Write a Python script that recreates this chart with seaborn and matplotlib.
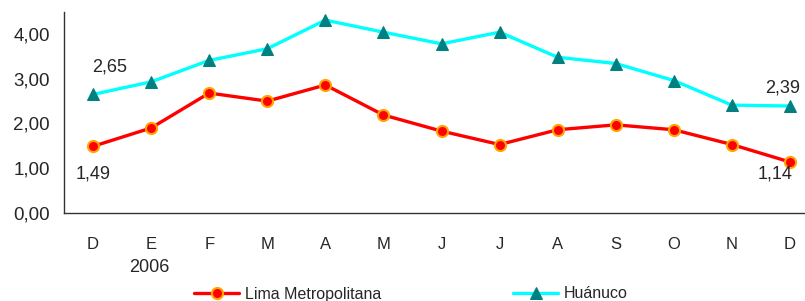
import matplotlib
matplotlib.use("Agg")
import matplotlib.pyplot as plt
import seaborn as sns
import pandas as pd
import numpy as np

months = ["D", "E", "F", "M", "A", "M", "J", "J", "A", "S", "O", "N", "D"]
lima = [1.49, 1.90, 2.68, 2.50, 2.86, 2.19, 1.83, 1.53, 1.86, 1.97, 1.86, 1.53, 1.14]
huanuco = [2.65, 2.93, 3.41, 3.67, 4.31, 4.04, 3.78, 4.04, 3.48, 3.34, 2.96, 2.41, 2.39]
series_names = ["Lima Metropolitana", "Huánuco"]

sns.set_style("white")
plt.rcParams['font.family'] = ['Liberation Sans', 'DejaVu Sans']

fig = plt.figure(figsize=(8.05, 3.01), dpi=100)
ax = fig.add_axes([64/805, 1-213/301, (819-64)/805, (213-11.6)/301])

idx = np.arange(len(months))
df = pd.DataFrame({"x": np.concatenate([idx, idx]),
                   "y": lima + huanuco,
                   "serie": [series_names[0]]*len(idx) + [series_names[1]]*len(idx)})

sns.lineplot(data=df[df.serie == series_names[0]], x="x", y="y", ax=ax,
             color="#FF0000", lw=2.4, marker="o", markersize=8,
             markerfacecolor="#FF0000", markeredgecolor="#FFA500", markeredgewidth=1.5,
             label=series_names[0], legend=False)
sns.lineplot(data=df[df.serie == series_names[1]], x="x", y="y", ax=ax,
             color="#00FFFF", lw=2.4, marker="^", markersize=9,
             markerfacecolor="#008080", markeredgecolor="#008080",
             label=series_names[1], legend=False)

ax.set_xlim(-0.5, 12.5)
ax.set_ylim(0, 4.5)
ax.set_yticks([0, 1, 2, 3, 4])
ax.set_yticklabels([f"{v:.2f}".replace(".", ",") for v in [0, 1, 2, 3, 4]], fontsize=13.5)
ax.set_xticks(idx)
ax.set_xticklabels(months, fontsize=12)
ax.tick_params(axis='x', length=0, pad=17)
ax.tick_params(axis='y', length=0, pad=10)
ax.set_xlabel("")
ax.set_ylabel("")
for s in ["top", "right"]:
    ax.spines[s].set_visible(False)
for s in ["left", "bottom"]:
    ax.spines[s].set_color("#333333")
    ax.spines[s].set_linewidth(1.0)

fig.text(149/805, 1-268/301, "2006", ha="center", va="center", fontsize=13)

def fmt(v):
    return f"{v:.2f}".replace(".", ",")

ax.annotate(fmt(huanuco[0]), (0, huanuco[0]), xytext=(12, 20), textcoords="offset points",
            ha="center", va="center", fontsize=13)
ax.annotate(fmt(lima[0]), (0, lima[0]), xytext=(0, -20), textcoords="offset points",
            ha="center", va="center", fontsize=13)
ax.annotate(fmt(huanuco[-1]), (12, huanuco[-1]), xytext=(-5, 13), textcoords="offset points",
            ha="center", va="center", fontsize=13)
ax.annotate(fmt(lima[-1]), (12, lima[-1]), xytext=(-11, -9), textcoords="offset points",
            ha="center", va="center", fontsize=13)

handles, labels = ax.get_legend_handles_labels()
fig.legend(handles, labels, loc="center", bbox_to_anchor=(411/805, 1-294/301), ncol=2,
           frameon=False, fontsize=11.5, columnspacing=8.3, handlelength=2.8, handletextpad=0.35,
           borderpad=0.1)

fig.savefig("out.png", dpi=100)
